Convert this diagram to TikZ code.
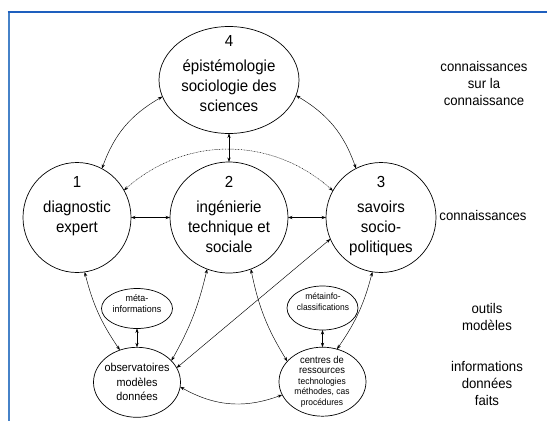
\documentclass[tikz,border=0pt]{standalone}
\usepackage{fontspec}
\setmainfont{Liberation Sans}[FakeStretch=0.94]
\usetikzlibrary{shapes.geometric,arrows.meta}
\definecolor{frameA}{RGB}{30,95,190}
\definecolor{frameB}{RGB}{70,130,200}
\tikzset{
  bub/.style={draw, ellipse, line width=0.7pt, inner sep=0pt, outer sep=0pt},
  bigtxt/.style={align=center, inner sep=0pt, anchor=north, font=\fontsize{16}{20}\selectfont},
  sidetxt/.style={align=center, inner sep=0pt, font=\fontsize{14}{17}\selectfont},
  link/.style={line width=0.45pt, {Stealth[length=4.5pt,width=3.2pt]}-{Stealth[length=4.5pt,width=3.2pt]}},
  dotlink/.style={dash pattern=on 1.2pt off 0.8pt on 0.4pt off 0.8pt},
}
\begin{document}
\begin{tikzpicture}[x=1pt,y=1pt]
\useasboundingbox (0,0) rectangle (547,-421);
% frame
\draw[frameB, line width=2pt] (8.5,-11.5) -- (8.5,-421);
\draw[frameA, line width=1.6pt] (7.5,-12) -- (547,-12);

% main bubbles
\node[bub, minimum width=140pt, minimum height=107pt] (e4) at (229,-80) {};
\node[bub, minimum width=108pt, minimum height=110pt] (c1) at (77,-217.5) {};
\node[bub, minimum width=118pt, minimum height=111pt] (c2) at (229,-217.5) {};
\node[bub, minimum width=110pt, minimum height=110pt] (c3) at (381,-217.5) {};
\node[bub, minimum width=71pt, minimum height=40pt] (m1) at (137,-308.5) {};
\node[bub, minimum width=71pt, minimum height=44pt] (m2) at (322.5,-308) {};
\node[bub, minimum width=87pt, minimum height=70pt] (ob) at (137,-382.3) {};
\node[bub, minimum width=87pt, minimum height=69pt] (cr) at (322.5,-381.7) {};

% texts in bubbles
\node[bigtxt] (t4) at (229,-35) {4\\[5pt]épistémologie\\sociologie des\\sciences};
\node[bigtxt] (t1) at (77,-176.5) {1\\[5pt]diagnostic\\expert};
\node[bigtxt] (t2) at (229,-176) {2\\[5pt]ingénierie\\technique et\\sociale};
\node[bigtxt] (t3) at (381,-176.5) {3\\[5pt]savoirs\\socio-\\politiques};
\node[align=center, inner sep=0pt, font=\fontsize{9.5}{11}\selectfont] (tm1) at (137,-304) {méta-\\informations};
\node[align=center, inner sep=0pt, font=\fontsize{9}{11}\selectfont] (tm2) at (323,-301.5) {métainfo-\\classifications};
\node[align=center, inner sep=0pt, font=\fontsize{11.5}{14.5}\selectfont] (tob) at (137,-382) {observatoires\\modèles\\données};
\node[align=center, inner sep=0pt, font=\fontsize{9}{10.5}\selectfont] (tcr) at (322,-381.5) {{\fontsize{10}{10.5}\selectfont centres de}\\{\fontsize{10}{10.5}\selectfont ressources}\\technologies\\méthodes, cas\\procédures};

% side labels
\node[sidetxt] (r1) at (484,-83) {connaissances\\sur la\\connaissance};
\node[sidetxt] (r2) at (483,-215) {connaissances};
\node[sidetxt] (r3) at (487,-317) {outils\\modèles};
\node[sidetxt] (r4) at (487,-383.5) {informations\\données\\faits};

% connectors
\draw[link] (e4.194) to[bend right=20] (c1.63);
\draw[link] (e4.347) to[bend left=20] (c3.117);
\draw[link] (e4.south) -- (c2.north);
\draw[link, dotlink] (c1.30) to[out=42,in=138] (c3.151);
\draw[link] (c1.east) -- (c2.west);
\draw[link] (c2.east) -- (c3.west);
\draw[link] (c1.278) to[bend right=10] (ob.118);
\draw[link] (m1.south) -- (ob.north);
\draw[link] (c2.247) to[bend left=8] (ob.32);
\draw[link] (c3.203) -- (ob.20);
\draw[link] (c2.293) to[bend right=10] (cr.150);
\draw[link] (m2.south) -- (cr.north);
\draw[link] (c3.261) to[bend left=10] (cr.66);
\draw[link] (ob.354) to[bend right=25] (cr.198);
\end{tikzpicture}
\end{document}
